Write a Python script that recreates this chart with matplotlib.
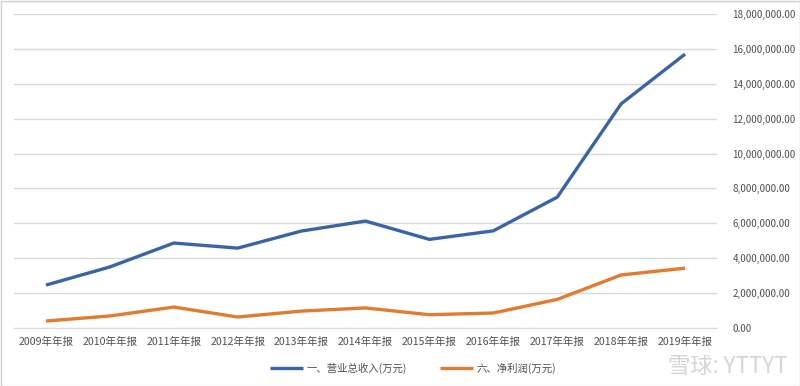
import matplotlib
matplotlib.use("Agg")
import matplotlib.pyplot as plt
from matplotlib.ticker import FuncFormatter, MultipleLocator
from matplotlib.patches import Rectangle

plt.rcParams['font.family'] = ['Noto Sans CJK SC', 'DejaVu Sans']

categories = ["2009年年报", "2010年年报", "2011年年报", "2012年年报", "2013年年报", "2014年年报",
              "2015年年报", "2016年年报", "2017年年报", "2018年年报", "2019年年报"]
revenue = [2460000, 3500000, 4870000, 4580000, 5560000, 6130000, 5080000, 5570000, 7500000, 12850000, 15700000]
net_profit = [400000, 690000, 1200000, 630000, 970000, 1150000, 760000, 860000, 1640000, 3040000, 3430000]
series_names = ["一、营业总收入(万元)", "六、净利润(万元)"]

fig = plt.figure(figsize=(8, 3.86), dpi=100)
ax = fig.add_axes([14/800, 1-328/386, (717-14)/800, (328-14)/386])

x = list(range(len(categories)))
ax.plot(x, revenue, color="#3a64a8", lw=2.4, label=series_names[0], solid_capstyle='butt')
ax.plot(x, net_profit, color="#e07b30", lw=2.4, label=series_names[1], solid_capstyle='butt')

ax.set_xlim(-0.5, len(categories)-0.5)
ax.set_ylim(0, 18000000)
ax.yaxis.set_major_locator(MultipleLocator(2000000))
ax.yaxis.set_major_formatter(FuncFormatter(lambda v, p: f"{v:,.2f}"))
ax.yaxis.tick_right()
ax.tick_params(axis='y', length=0, pad=11, labelsize=7.1, labelcolor="#505050")
ax.set_xticks(x)
ax.set_xticklabels(categories)
ax.tick_params(axis='x', length=0, pad=6, labelsize=7.6, labelcolor="#505050")
for lab in ax.get_yticklabels():
    lab.set_horizontalalignment('left')
ax.grid(axis='y', color="#d9d9d9", lw=1)
ax.set_axisbelow(True)
for s in ["top", "left", "right"]:
    ax.spines[s].set_visible(False)
ax.spines["bottom"].set_color("#d9d9d9")

leg = fig.legend(loc="center", bbox_to_anchor=(413/800, 1-368/386), ncol=2, frameon=False,
                 fontsize=7.5, handlelength=3.2, columnspacing=3.2, handletextpad=0.3)
for t in leg.get_texts():
    t.set_color("#505050")

fig.text(788/800, 1-366/386, "雪球: YTTYT", ha="right", va="center", fontsize=16, color="#d5d5d5")

fig.patches.append(Rectangle((0.5/800, 0.5/386), 1-1/800, 1-1/386, transform=fig.transFigure,
                             fill=False, edgecolor="#d0d0d0", lw=1))

fig.savefig("out.png", dpi=100)
